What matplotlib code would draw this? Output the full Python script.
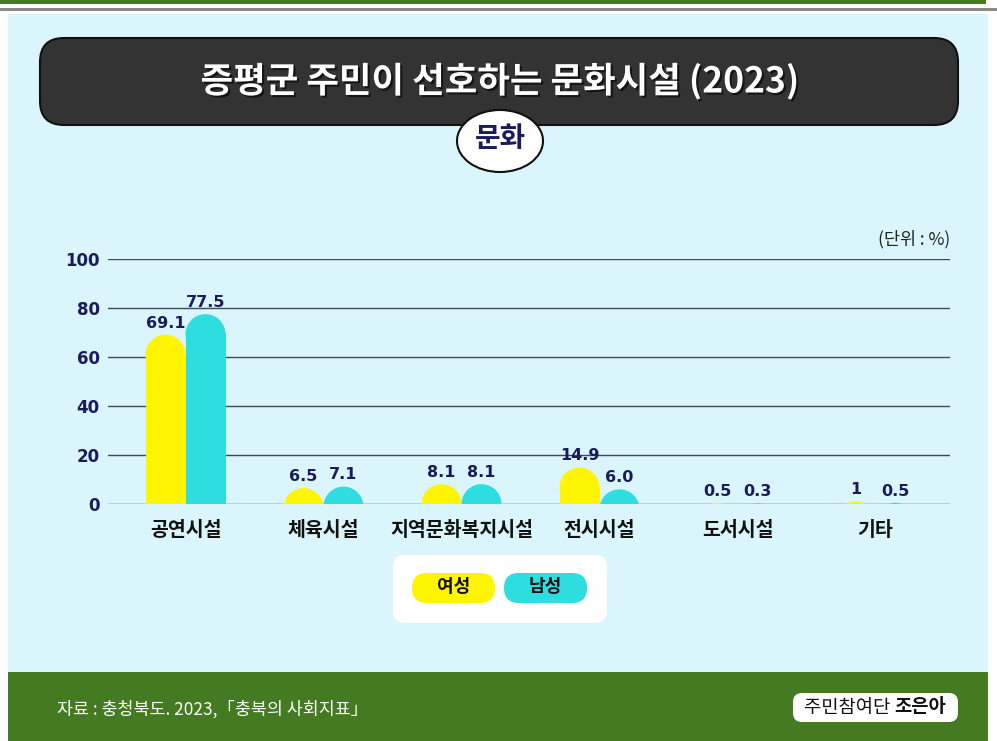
import matplotlib
matplotlib.use("Agg")
import matplotlib.pyplot as plt
from matplotlib.patches import FancyBboxPatch, Ellipse, Rectangle
import matplotlib.patheffects as pe
import numpy as np

plt.rcParams['font.family'] = ['Noto Sans CJK KR', 'DejaVu Sans']

categories = ['공연시설', '체육시설', '지역문화복지시설', '전시시설', '도서시설', '기타']
female = [69.1, 6.5, 8.1, 14.9, 0.5, 1]
male = [77.5, 7.1, 8.1, 6.0, 0.3, 0.5]
female_labels = ['69.1', '6.5', '8.1', '14.9', '0.5', '1']
male_labels = ['77.5', '7.1', '8.1', '6.0', '0.3', '0.5']
series_names = ['여성', '남성']
yticks = [0, 20, 40, 60, 80, 100]

title = '증평군 주민이 선호하는 문화시설 (2023)'
badge = '문화'
unit = '(단위 : %)'
source = '자료 : 충청북도. 2023,「충북의 사회지표」'

YELLOW = '#FFF500'
CYAN = '#2EDDE0'
BG = '#DAF6FC'
GREEN = '#437A22'
NAVY = '#1B1B5C'
NUMFONT = ['DejaVu Sans']

W, H = 997, 741
fig = plt.figure(figsize=(W / 100, H / 100), dpi=100)
fig.patch.set_facecolor('white')

bg = fig.add_axes([0, 0, 1, 1])
bg.set_xlim(0, W)
bg.set_ylim(H, 0)
bg.axis('off')

# top lines
bg.add_patch(Rectangle((0, 0), 986, 3.5, fc=GREEN, ec='none'))
bg.add_patch(Rectangle((0, 8), W, 3, fc='#8A8A8A', ec='none'))
# background panel
bg.add_patch(Rectangle((8, 14), 980, 658, fc=BG, ec='none'))
# footer
bg.add_patch(Rectangle((8, 672), 980, 69, fc=GREEN, ec='none'))

# title box
bg.add_patch(FancyBboxPatch((40, 38), 918, 87, boxstyle='round,pad=0,rounding_size=24',
                            fc='#333333', ec='#111111', lw=1.5, zorder=2))
bg.text(500, 81, title, color='white', fontsize=25.5, fontweight='bold', ha='center', va='center',
        zorder=3, path_effects=[pe.withSimplePatchShadow(offset=(1.5, -1.5), shadow_rgbFace='black', alpha=0.6)])
bg.add_patch(Ellipse((500, 141), 86, 62, fc='white', ec='#111111', lw=1.5, zorder=4))
bg.text(500, 139, badge, color=NAVY, fontsize=20, fontweight='bold', ha='center', va='center', zorder=5)

bg.text(950, 239, unit, color='#222222', fontsize=12.5, ha='right', va='center')

# legend box
bg.add_patch(FancyBboxPatch((393, 555), 214, 68, boxstyle='round,pad=0,rounding_size=12',
                            fc='white', ec='none'))
for (x0, c, name) in [(412, YELLOW, series_names[0]), (504, CYAN, series_names[1])]:
    bg.add_patch(FancyBboxPatch((x0, 573), 83, 30, boxstyle='round,pad=0,rounding_size=15',
                                fc=c, ec='none'))
    bg.text(x0 + 41.5, 587, name, fontsize=13, fontweight='bold', ha='center', va='center', color='#111111')

# footer texts
bg.text(57, 709, source, color='white', fontsize=12.5, ha='left', va='center')
bg.add_patch(FancyBboxPatch((793, 693), 165, 29, boxstyle='round,pad=0,rounding_size=9',
                            fc='white', ec='none'))
t1 = bg.text(804, 707, '주민참여단 ', color='#111111', fontsize=13.5, ha='left', va='center')
bg.annotate('조은아', xycoords=t1, xy=(1, 0.5), va='center', ha='left',
            color='#111111', fontsize=13.5, fontweight='bold')

# chart axes
left, right, y0px, y100px = 108, 950, 504, 259
ax = fig.add_axes([left / W, (H - y0px) / H, (right - left) / W, (y0px - y100px) / H])
ax.patch.set_alpha(0)
x = np.arange(len(categories))
centre0, step = 185.5, 138.0
ax.set_xlim((left - centre0) / step, (right - centre0) / step)
ax.set_ylim(0, 100)
bw = 40 / step

ax.set_yticks(yticks)
ax.set_yticklabels([str(v) for v in yticks], color=NAVY, fontsize=12, fontweight='bold', family=NUMFONT)
ax.yaxis.grid(True, color='#3C4A55', lw=1)
ax.set_axisbelow(True)
ax.tick_params(axis='y', length=0, pad=6)
ax.set_xticks(x)
ax.set_xticklabels(categories, fontsize=14, fontweight='bold', color='#111111')
ax.tick_params(axis='x', length=0, pad=12)
for s in ax.spines.values():
    s.set_visible(False)

px_per_y = (y0px - y100px) / 100.0
r_y = 20 / px_per_y  # radius of top cap in data units (y)

for vals, labels, off, color in [(female, female_labels, -bw / 2, YELLOW), (male, male_labels, bw / 2, CYAN)]:
    bars = ax.bar(x + off, vals, width=bw, color=color, zorder=2)
    for rect, lab in zip(bars, labels):
        bx, bwid, bh = rect.get_x(), rect.get_width(), rect.get_height()
        cy = bh - r_y
        # straight part of the bar below the rounded cap
        rect.set_height(max(cy, 0))
        cap = Ellipse((bx + bwid / 2, cy), bwid, 2 * r_y, fc=color, ec='none', zorder=2)
        ax.add_patch(cap)
        ax.annotate(lab, xy=(bx + bwid / 2, bh), xytext=(0, 3), textcoords='offset points',
                    ha='center', va='bottom', color=NAVY, fontsize=11.5, fontweight='bold',
                    family=NUMFONT, annotation_clip=False)

fig.savefig('out.png', dpi=100, facecolor=fig.get_facecolor())
